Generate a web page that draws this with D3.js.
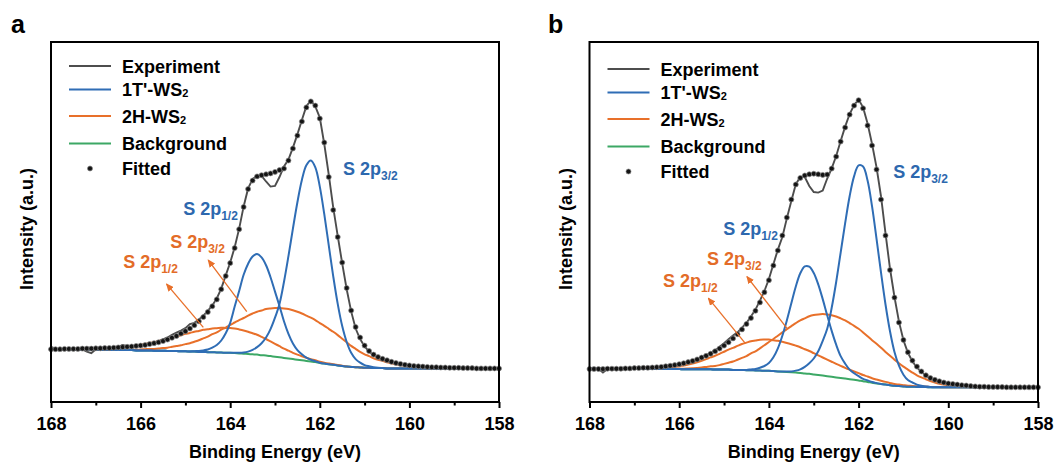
<!DOCTYPE html>
<html><head><meta charset="utf-8">
<script src="https://cdn.jsdelivr.net/npm/d3@7"></script>
<style>
body{margin:0;background:#fff}
svg text{font-family:"Liberation Sans",Arial,sans-serif;font-weight:bold}
</style>
</head><body>
<svg id="chart" width="1057" height="468"></svg>
<script>
// ---------------- DATA ----------------
const energy = [168.0,167.9,167.8,167.7,167.6,167.5,167.4,167.3,167.2,167.1,
167.0,166.9,166.8,166.7,166.6,166.5,166.4,166.3,166.2,166.1,
166.0,165.9,165.8,165.7,165.6,165.5,165.4,165.3,165.2,165.1,
165.0,164.9,164.8,164.7,164.6,164.5,164.4,164.3,164.2,164.1,
164.0,163.9,163.8,163.7,163.6,163.5,163.4,163.3,163.2,163.1,
163.0,162.9,162.8,162.7,162.6,162.5,162.4,162.3,162.2,162.1,
162.0,161.9,161.8,161.7,161.6,161.5,161.4,161.3,161.2,161.1,
161.0,160.9,160.8,160.7,160.6,160.5,160.4,160.3,160.2,160.1,
160.0,159.9,159.8,159.7,159.6,159.5,159.4,159.3,159.2,159.1,
159.0,158.9,158.8,158.7,158.6,158.5,158.4,158.3,158.2,158.1,158.0];

const xTicksMajor = [168,166,164,162,160,158];
const xTicksMinor = [167,165,163,161,159];
const legendNames = [["Experiment",""],["1T'-WS","2"],["2H-WS","2"],["Background",""],["Fitted",""]];

// ----- panel a -----
const backgroundA = [17.6,17.6,17.6,17.6,17.5,17.5,17.5,17.5,17.5,17.4,
17.4,17.4,17.4,17.4,17.3,17.3,17.3,17.3,17.3,17.2,
17.2,17.2,17.2,17.1,17.1,17.1,17.0,17.0,17.0,16.9,
16.9,16.8,16.8,16.7,16.7,16.6,16.6,16.5,16.5,16.4,
16.4,16.3,16.2,16.1,16.0,15.9,15.8,15.6,15.5,15.3,
15.1,14.9,14.7,14.5,14.3,14.1,13.9,13.7,13.5,13.3,
13.0,12.8,12.6,12.4,12.2,12.0,11.8,11.7,11.6,11.5,
11.4,11.4,11.3,11.3,11.3,11.2,11.2,11.2,11.2,11.2,
11.2,11.2,11.2,11.2,11.2,11.2,11.2,11.2,11.2,11.2,
11.2,11.2,11.2,11.2,11.2,11.2,11.2,11.2,11.2,11.2,11.2];
// component heights above background
const t1S2p32A = [0,0,0,0,0,0,0,0,0,0, 0,0,0,0,0,0,0,0,0,0, 0,0,0,0,0,0,0,0,0,0, 0,0,0,0,0,0,0,0,0,0,
0,0.1,0.2,0.4,0.8,1.5,2.5,4,6,9,
13,17.8,25.3,34.1,43.5,52.5,60.1,65.2,67,64.9,
58.8,49.8,39.6,29.5,20.5,13.3,8.2,4.7,2.7,1.6,
0.9,0.5,0.3,0.1,0,0,0,0,0,0,
0,0,0,0,0,0,0,0,0,0, 0,0,0,0,0,0,0,0,0,0,0];
const t1S2p12A = [0,0,0,0,0,0,0,0,0,0, 0,0,0,0,0,0,0,0,0,0, 0,0,0,0,0,0,0,0,0,0,
0,0.05,0.15,0.3,0.5,0.9,1.5,2.5,4,6.5,
10,15.5,20.8,26.3,30.1,32.6,33.5,32.6,30.1,26.3,
21.7,17.1,12.2,8.2,5.2,3.2,2,1.1,0.6,0.3,
0.1,0,0,0,0,0,0,0,0,0,
0,0,0,0,0,0,0,0,0,0, 0,0,0,0,0,0,0,0,0,0, 0,0,0,0,0,0,0,0,0,0,0];
const h2S2p32A = [0,0,0,0,0,0,0,0,0,0,
0,0,0,0,0,0.1,0.1,0.1,0.2,0.2,
0.3,0.4,0.5,0.6,0.7,0.9,1.1,1.4,1.7,2.0,
2.4,2.8,3.3,3.9,4.5,5.2,6.0,6.7,7.6,8.4,
9.3,10.2,11.1,11.9,12.8,13.6,14.3,14.9,15.5,15.9,
16.2,16.4,16.5,16.5,16.3,16.0,15.6,15.1,14.6,14.0,
13.3,12.6,11.8,11.0,10.1,9.1,8.1,7.0,6.1,5.2,
4.5,3.9,3.3,2.8,2.4,2.0,1.7,1.4,1.1,0.9,
0.7,0.6,0.5,0.4,0.3,0.2,0.2,0.1,0.1,0,
0,0,0,0,0,0,0,0,0,0,0];
const h2S2p12A = [0.01,0.02,0.03,0.04,0.05,0.07,0.09,0.12,0.16,0.2,
0.26,0.33,0.41,0.51,0.62,0.76,0.92,1.1,1.3,1.55,
1.85,2.15,2.45,2.8,3.2,3.6,4.0,4.45,4.9,5.35,
5.8,6.2,6.6,7.0,7.35,7.65,7.9,8.1,8.23,8.29,
8.29,8.2,8.0,7.75,7.4,7.0,6.6,6.1,5.5,4.9,
4.3,3.7,3.1,2.6,2.1,1.7,1.35,1.05,0.8,0.6,
0.45,0.33,0.24,0.17,0.12,0.08,0.05,0.03,0.02,0.01,
0,0,0,0,0,0,0,0,0,0, 0,0,0,0,0,0,0,0,0,0, 0,0,0,0,0,0,0,0,0,0,0];
const experimentA = [18.4,17.8,17.5,17.6,17.8,17.6,17.9,17.5,16.8,16.3,
17.6,18.0,18.1,17.9,18.2,18.4,19.0,18.6,18.5,18.8,
19.0,19.1,19.5,19.8,20.2,20.9,21.5,22.4,23.1,23.8,
24.6,26.0,26.4,27.5,28.8,30.4,32.2,34.5,37.8,42.2,
46.5,51.6,57.8,65.2,71.2,74.3,75.5,75.4,73.5,71.8,
72.0,75.0,78.5,80.8,84.8,89.2,94.0,98.6,100.5,98.5,
94.8,86.0,75.8,64.8,55.4,46.2,37.6,30.2,24.5,21.0,
18.5,16.8,15.6,14.9,14.2,13.7,13.2,12.9,12.6,12.2,
12.4,11.8,11.9,11.6,11.8,11.5,11.7,11.3,11.4,11.3,
11.5,11.7,11.2,11.3,11.1,11.3,11.2,11.0,11.3,11.1,11.2];
const fittedA = [17.6,17.6,17.6,17.7,17.7,17.7,17.7,17.8,17.8,17.8,
17.9,17.9,18.0,18.0,18.1,18.2,18.3,18.4,18.5,18.7,
18.8,19.0,19.3,19.6,19.9,20.3,20.8,21.4,22.0,22.8,
23.6,24.5,25.6,26.9,28.3,30.0,31.9,34.2,37.6,42.0,
46.3,51.3,57.6,65.0,71.0,73.8,75.2,75.6,75.9,76.2,
76.7,77.3,77.8,80.5,84.5,88.8,93.5,98.2,100.2,98.8,
94.5,86.5,75.0,64.0,55.0,46.5,38.0,30.5,25.0,21.5,
18.8,17.0,15.8,15.0,14.4,13.9,13.4,13.0,12.7,12.4,
12.2,12.0,11.9,11.8,11.7,11.6,11.6,11.5,11.5,11.4,
11.4,11.4,11.3,11.3,11.3,11.2,11.2,11.2,11.2,11.2,11.2];
// annotations [subscript, colour key, energy, intensity]
const peakLabelsA = [["3/2","blue",161.48,75.7],["1/2","blue",165.05,62.3],["3/2","orange",165.34,51.3],["1/2","orange",166.39,44.7]];
// arrows [E from, I from, E to, I to]
const arrowsA = [[163.63,30.1,164.49,47.3],[164.6,24.9,165.42,39.3]];

// ----- panel b -----
const backgroundB = [11.2,11.2,11.2,11.2,11.2,11.1,11.1,11.1,11.1,11.1,
11.1,11.1,11.0,11.0,11.0,11.0,11.0,11.0,11.0,11.0,
11.0,10.9,10.9,10.9,10.9,10.9,10.9,10.9,10.8,10.8,
10.8,10.8,10.7,10.7,10.7,10.6,10.6,10.5,10.5,10.4,
10.4,10.3,10.2,10.1,10.0,9.9,9.8,9.7,9.5,9.4,
9.2,9.0,8.8,8.6,8.4,8.2,8.0,7.8,7.6,7.4,
7.2,6.9,6.7,6.4,6.2,6.0,5.8,5.6,5.4,5.3,
5.2,5.1,5.1,5.0,5.0,5.0,4.9,4.9,4.9,4.9,
4.9,4.9,4.9,4.9,4.9,4.9,4.9,4.9,4.9,4.9,
4.9,4.9,4.9,4.9,4.9,4.9,4.9,4.9,4.9,4.9,4.9];
const t1S2p32B = [0,0,0,0,0,0,0,0,0,0, 0,0,0,0,0,0,0,0,0,0, 0,0,0,0,0,0,0,0,0,0, 0,0,0,0,0,0,0,0,0,0,
0,0,0,0.05,0.15,0.3,0.65,1.2,2.2,3.5,
5.3,7.9,11.6,15.8,23.0,31.8,41.8,51.8,61.0,67.9,
71.7,71.6,67.1,58.8,48.2,37.1,26.7,18.0,11.3,6.8,
3.9,2.2,1.4,0.8,0.4,0.2,0.1,0,0,0,
0,0,0,0,0,0,0,0,0,0, 0,0,0,0,0,0,0,0,0,0,0];
const t1S2p12B = [0,0,0,0,0,0,0,0,0,0, 0,0,0,0,0,0,0,0,0,0, 0,0,0,0,0,0,0,0,0,0,
0,0,0,0,0,0.1,0.25,0.5,0.9,1.6,
2.6,4.6,7.7,12.0,17.2,23.0,28.7,33.2,35.7,35.7,
33.8,30.2,25.5,20.3,15.3,10.9,7.3,5.0,3.2,2.2,
1.4,0.8,0.5,0.25,0.1,0,0,0,0,0,
0,0,0,0,0,0,0,0,0,0, 0,0,0,0,0,0,0,0,0,0, 0,0,0,0,0,0,0,0,0,0,0];
const h2S2p32B = [0,0,0,0,0,0,0,0,0,0,
0,0,0,0,0,0,0.03,0.05,0.08,0.11,
0.15,0.2,0.27,0.35,0.45,0.6,0.8,1.0,1.2,1.5,
1.9,2.3,2.8,3.4,4.0,4.7,5.6,6.4,7.4,8.5,
9.6,10.7,11.9,13.1,14.3,15.4,16.5,17.5,18.4,19.2,
19.8,20.2,20.5,20.6,20.5,20.3,19.9,19.4,18.7,18.0,
17.2,16.3,15.2,14.2,13.2,12.1,10.9,9.8,8.7,7.6,
6.6,5.7,4.7,3.9,3.2,2.6,2.1,1.6,1.2,0.9,
0.7,0.5,0.37,0.27,0.19,0.12,0.08,0.04,0,0,
0,0,0,0,0,0,0,0,0,0,0];
const h2S2p12B = [0,0,0,0,0,0,0,0.01,0.02,0.03,
0.05,0.07,0.1,0.14,0.19,0.26,0.34,0.46,0.6,0.78,
1.0,1.26,1.57,1.93,2.36,2.84,3.38,3.96,4.6,5.26,
5.96,6.66,7.35,8.0,8.63,9.18,9.64,10.0,10.25,10.4,
10.4,10.3,10.2,9.96,9.69,9.36,8.99,8.56,8.09,7.6,
7.09,6.57,6.04,5.52,5.01,4.51,4.05,3.59,3.17,2.78,
2.41,2.09,1.79,1.53,1.3,1.09,0.9,0.75,0.61,0.51,
0.41,0.33,0.27,0.21,0.17,0.14,0.1,0.08,0.06,0.04,
0.03,0.02,0.01,0,0,0,0,0,0,0,
0,0,0,0,0,0,0,0,0,0,0];
const experimentB = [11.3,10.9,11.1,9.8,11.0,11.3,11.0,11.2,11.5,11.2,
11.4,11.2,11.6,11.3,11.7,11.5,11.9,12.2,12.0,12.5,
12.7,13.2,13.2,13.9,14.3,15.0,15.5,16.5,17.2,18.4,
19.6,20.9,22.2,23.2,24.8,26.4,28.5,30.8,33.8,37.0,
41.0,45.9,50.8,55.0,61.2,67.0,72.6,75.0,75.0,72.0,
70.0,69.8,70.5,74.5,77.9,82.0,87.0,91.8,96.0,99.0,
100.8,98.2,92.8,86.0,78.2,68.5,56.2,44.5,35.0,26.8,
20.6,16.4,13.5,11.5,10.0,8.8,7.8,7.3,6.8,6.5,
6.1,6.0,5.9,5.4,5.6,5.3,5.4,5.0,5.2,4.9,
5.1,5.0,4.8,5.1,4.7,5.0,4.9,4.6,5.0,4.8,4.9];
const fittedB = [11.0,11.0,11.0,11.0,11.1,11.1,11.1,11.1,11.2,11.2,
11.3,11.3,11.4,11.4,11.5,11.6,11.7,11.9,12.1,12.3,
12.6,12.9,13.3,13.7,14.2,14.8,15.4,16.1,16.9,17.8,
18.8,19.9,21.2,22.6,24.2,26.0,28.0,30.4,33.2,36.6,
40.6,45.5,50.5,55.5,61.5,67.5,72.5,74.7,75.5,75.9,
76.1,75.9,75.7,75.8,77.8,81.8,86.8,91.5,95.8,98.8,
100.6,97.9,92.2,85.5,77.5,67.5,55.5,44.0,34.8,26.5,
20.7,16.6,13.8,11.8,10.2,8.9,8.0,7.4,6.9,6.5,
6.2,6.0,5.8,5.6,5.5,5.3,5.2,5.1,5.1,5.0,
5.0,5.0,5.0,4.9,4.9,4.9,4.9,4.9,4.9,4.9,4.9];
const peakLabelsB = [["3/2","blue",161.23,74.7],["1/2","blue",165.02,55.7],["3/2","orange",165.38,45.7],["1/2","orange",166.36,38.3]];
const arrowsB = [[163.6,24.6,164.49,41.8],[164.53,19.6,165.35,34.6]];

// ---------------- STYLE / LAYOUT ----------------
const colors = {exp:"#4d4d4d", blue:"#2f6db5", orange:"#e8702a", green:"#3ca865", dot:"#141414",
                blueText:"#2d68ae", orangeText:"#e36c28"};
const panels = [
  {tag:"a", tagX:11, left:51, right:499, top:42, bottom:402, legendTop:66, ylabX:33, ylabY:229,
   bg:backgroundA, blue:[t1S2p32A,t1S2p12A], orange:[h2S2p32A,h2S2p12A], exp:experimentA, fit:fittedA,
   labels:peakLabelsA, arrows:arrowsA},
  {tag:"b", tagX:548, left:589.5, right:1038, top:42, bottom:402, legendTop:69, ylabX:572, ylabY:229,
   bg:backgroundB, blue:[t1S2p32B,t1S2p12B], orange:[h2S2p32B,h2S2p12B], exp:experimentB, fit:fittedB,
   labels:peakLabelsB, arrows:arrowsB}
];
const legendOffsets = [0,23.5,50,77.5,102.5];

const svg = d3.select("#chart");
svg.append("rect").attr("width",1057).attr("height",468).attr("fill","#fff");
const defs = svg.append("defs");
defs.append("marker").attr("id","arrowhead").attr("markerUnits","userSpaceOnUse")
  .attr("markerWidth",8).attr("markerHeight",7).attr("refX",7).attr("refY",3.5).attr("orient","auto")
  .append("path").attr("d","M0,0 L8,3.5 L0,7 Z").attr("fill",colors.orange);

panels.forEach(p => {
  const x = d3.scaleLinear().domain([168,158]).range([p.left,p.right]);
  const y = d3.scaleLinear().domain([0,120]).range([p.bottom,p.top]);
  const g = svg.append("g");

  const smooth = d3.line().x((d,i)=>x(energy[i])).y(d=>y(d)).curve(d3.curveCatmullRom.alpha(0.5));
  const straight = d3.line().x((d,i)=>x(energy[i])).y(d=>y(d));

  // background
  g.append("path").attr("d",smooth(p.bg)).attr("fill","none").attr("stroke",colors.green).attr("stroke-width",2);
  // components (drawn on top of background)
  p.orange.forEach(c => {
    g.append("path").attr("d",smooth(c.map((v,i)=>v+p.bg[i]))).attr("fill","none")
     .attr("stroke",colors.orange).attr("stroke-width",2);
  });
  p.blue.forEach(c => {
    g.append("path").attr("d",smooth(c.map((v,i)=>v+p.bg[i]))).attr("fill","none")
     .attr("stroke",colors.blue).attr("stroke-width",2);
  });
  // experiment
  g.append("path").attr("d",straight(p.exp)).attr("fill","none").attr("stroke",colors.exp).attr("stroke-width",1.9);
  // fitted dots
  g.append("g").selectAll("circle").data(p.fit).join("circle")
    .attr("cx",(d,i)=>x(energy[i])).attr("cy",d=>y(d)).attr("r",2.5)
    .attr("fill",colors.dot).attr("stroke","#8a8a8a").attr("stroke-width",0.7);

  // arrows
  p.arrows.forEach(a => {
    g.append("line").attr("x1",x(a[0])).attr("y1",y(a[1])).attr("x2",x(a[2])).attr("y2",y(a[3]))
     .attr("stroke",colors.orange).attr("stroke-width",1.3).attr("marker-end","url(#arrowhead)");
  });
  // peak labels
  p.labels.forEach(l => {
    const t = g.append("text").attr("x",x(l[2])).attr("y",y(l[3])).attr("font-size",18)
      .attr("fill", l[1]==="blue"?colors.blueText:colors.orangeText);
    t.append("tspan").text("S 2p");
    t.append("tspan").attr("font-size",12).attr("dy",5).text(l[0]);
  });

  // frame
  g.append("rect").attr("x",p.left).attr("y",p.top).attr("width",p.right-p.left).attr("height",p.bottom-p.top)
    .attr("fill","none").attr("stroke","#000").attr("stroke-width",2);

  // axes
  const major = g.append("g").attr("transform",`translate(0,${p.bottom})`)
    .call(d3.axisBottom(x).tickValues(xTicksMajor).tickSize(6).tickPadding(9).tickFormat(d3.format("d")));
  major.select(".domain").remove();
  major.selectAll("line").attr("stroke","#000").attr("stroke-width",2);
  major.selectAll("text").attr("font-size",18).attr("fill","#000")
    .attr("font-family","'Liberation Sans',Arial,sans-serif").attr("font-weight","bold");
  major.attr("font-family",null).attr("font-size",null);
  const minor = g.append("g").attr("transform",`translate(0,${p.bottom})`)
    .call(d3.axisBottom(x).tickValues(xTicksMinor).tickSize(3.5).tickFormat(""));
  minor.select(".domain").remove();
  minor.selectAll("line").attr("stroke","#000").attr("stroke-width",2);

  // axis titles
  g.append("text").attr("x",(p.left+p.right)/2).attr("y",458).attr("text-anchor","middle")
    .attr("font-size",18).attr("fill","#000").text("Binding Energy (eV)");
  g.append("text").attr("transform",`translate(${p.ylabX},${p.ylabY}) rotate(-90)`)
    .attr("text-anchor","middle").attr("font-size",18).attr("fill","#000").text("Intensity (a.u.)");
  // panel tag
  g.append("text").attr("x",p.tagX).attr("y",33).attr("font-size",25).attr("fill","#000").text(p.tag);

  // legend
  const legColors = [colors.exp, colors.blue, colors.orange, colors.green, null];
  legendNames.forEach((nm,i) => {
    const cy = p.legendTop + legendOffsets[i];
    if (legColors[i]) {
      g.append("line").attr("x1",p.left+18).attr("x2",p.left+60).attr("y1",cy).attr("y2",cy)
       .attr("stroke",legColors[i]).attr("stroke-width",2);
    } else {
      g.append("circle").attr("cx",p.left+39).attr("cy",cy).attr("r",2.5)
       .attr("fill",colors.dot).attr("stroke","#8a8a8a").attr("stroke-width",0.7);
    }
    const t = g.append("text").attr("x",p.left+71).attr("y",cy+6.5).attr("font-size",18).attr("fill","#000");
    t.append("tspan").text(nm[0]);
    if (nm[1]) t.append("tspan").attr("font-size",11).attr("dy",1).text(nm[1]);
  });
});
</script>
</body></html>
